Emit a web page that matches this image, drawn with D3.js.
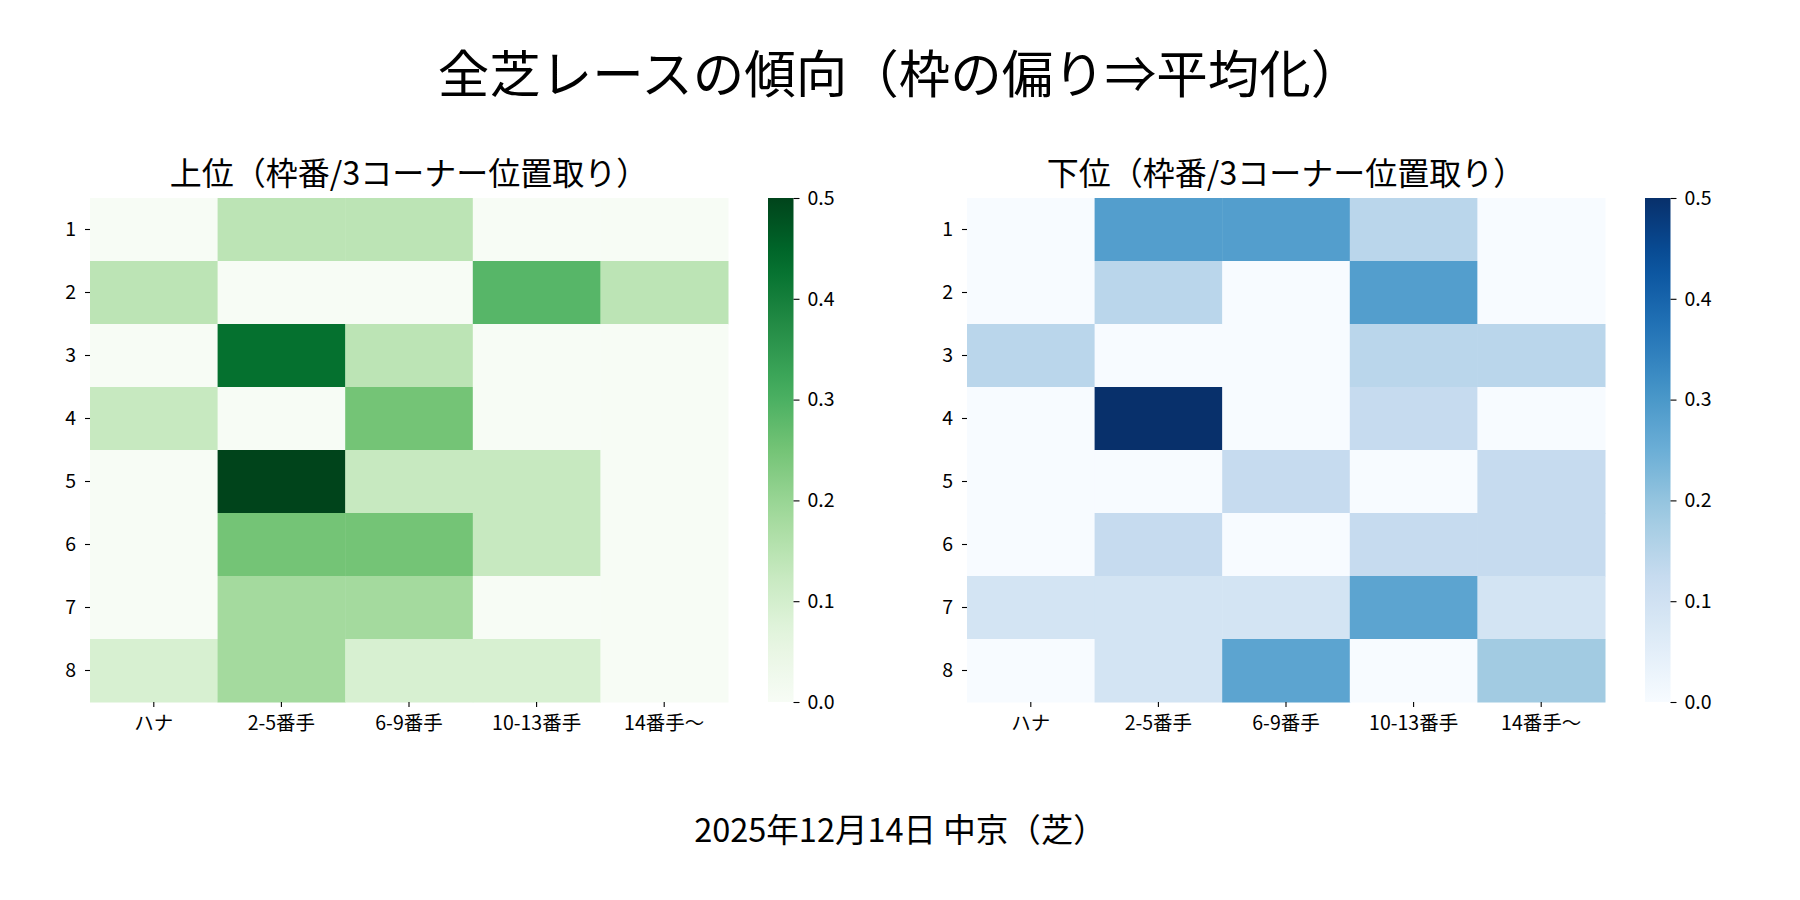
<!DOCTYPE html>
<html>
<head>
<meta charset="utf-8">
<script src="https://cdn.jsdelivr.net/npm/d3@7"></script>
<style>
  html, body { margin: 0; padding: 0; background: #fff; }
  svg text { font-family: "Noto Sans CJK JP", "Noto Sans", sans-serif; fill: #000; }
</style>
</head>
<body>
<div id="chart"></div>
<script>
// 行：枠番、列：3コーナー位置取り
const frames = ['1', '2', '3', '4', '5', '6', '7', '8'];
const positions = ['ハナ', '2-5番手', '6-9番手', '10-13番手', '14番手〜'];
const colorTicks = [0, 0.1, 0.2, 0.3, 0.4, 0.5];

// 上位（枠番/3コーナー位置取り）
const topRates = [
  [0, 0.143, 0.143, 0, 0],
  [0.143, 0, 0, 0.286, 0.143],
  [0, 0.429, 0.143, 0, 0],
  [0.125, 0, 0.25, 0, 0],
  [0, 0.5, 0.125, 0.125, 0],
  [0, 0.25, 0.25, 0.125, 0],
  [0, 0.182, 0.182, 0, 0],
  [0.091, 0.182, 0.091, 0.091, 0]
];

// 下位（枠番/3コーナー位置取り）
const bottomRates = [
  [0, 0.286, 0.286, 0.143, 0],
  [0, 0.143, 0, 0.286, 0],
  [0.143, 0, 0, 0.143, 0.143],
  [0, 0.5, 0, 0.125, 0],
  [0, 0, 0.125, 0, 0.125],
  [0, 0.125, 0, 0.125, 0.125],
  [0.091, 0.091, 0.091, 0.273, 0.091],
  [0, 0.091, 0.273, 0, 0.182]
];

const W = 1800, H = 900;
const svg = d3.select('#chart').append('svg')
  .attr('width', W).attr('height', H)
  .attr('viewBox', `0 0 ${W} ${H}`);
const defs = svg.append('defs');

// matplotlib と同じく 9 色を線形補間するカラーマップ
function makeCmap(scheme) {
  const stops = scheme.map((c, i) => 0.5 * i / (scheme.length - 1));
  return d3.scaleLinear().domain(stops).range(scheme)
    .interpolate(d3.interpolateRgb).clamp(true);
}

function drawHeatmap(x0, title, data, scheme, id) {
  const plot = { left: x0, top: 198, width: 638, height: 504 };
  const color = makeCmap(scheme);

  const g = svg.append('g')
    .attr('transform', `translate(${plot.left},${plot.top})`);

  const xScale = d3.scaleBand().domain(positions).range([0, plot.width]);
  const yScale = d3.scaleBand().domain(frames).range([0, plot.height]);

  // セル
  const cells = [];
  data.forEach((row, i) => row.forEach((v, j) => cells.push({ frame: frames[i], pos: positions[j], v })));
  g.selectAll('rect.cell')
    .data(cells).enter().append('rect')
    .attr('class', 'cell')
    .attr('x', d => xScale(d.pos))
    .attr('y', d => yScale(d.frame))
    .attr('width', xScale.bandwidth() + 0.5)
    .attr('height', yScale.bandwidth() + 0.5)
    .attr('fill', d => color(d.v));

  // 軸
  const yAxis = g.append('g')
    .call(d3.axisLeft(yScale).tickSize(5).tickPadding(9));
  const xAxis = g.append('g')
    .attr('transform', `translate(0,${plot.height})`)
    .call(d3.axisBottom(xScale).tickSize(5).tickPadding(9));
  [xAxis, yAxis].forEach(ax => {
    ax.select('.domain').remove();
    ax.selectAll('.tick line').attr('stroke', '#000').attr('stroke-width', 1.1);
    ax.selectAll('text').style('font-size', '19.5px').attr('fill', '#000');
  });

  // タイトル
  svg.append('text')
    .attr('x', plot.left + plot.width / 2)
    .attr('y', 185)
    .attr('text-anchor', 'middle')
    .style('font-size', '32px')
    .text(title);

  // カラーバー
  const cb = { left: plot.left + plot.width + 40, width: 25.5 };
  const grad = defs.append('linearGradient')
    .attr('id', `grad-${id}`)
    .attr('x1', '0%').attr('y1', '100%')
    .attr('x2', '0%').attr('y2', '0%');
  d3.range(0, 1.0001, 0.05).forEach(t => {
    grad.append('stop').attr('offset', `${t * 100}%`).attr('stop-color', color(t * 0.5));
  });
  const cScale = d3.scaleLinear().domain([0, 0.5]).range([plot.height, 0]);
  const cg = svg.append('g')
    .attr('transform', `translate(${cb.left},${plot.top})`);
  cg.append('rect')
    .attr('width', cb.width).attr('height', plot.height)
    .attr('fill', `url(#grad-${id})`);
  const cAxis = cg.append('g')
    .attr('transform', `translate(${cb.width},0)`)
    .call(d3.axisRight(cScale).tickValues(colorTicks).tickFormat(d3.format('.1f')).tickSize(6).tickPadding(8));
  cAxis.select('.domain').remove();
  cAxis.selectAll('.tick line').attr('stroke', '#000').attr('stroke-width', 1.1);
  cAxis.selectAll('text').style('font-size', '19.5px').attr('fill', '#000');
}

// 全体タイトル
svg.append('text')
  .attr('x', W / 2).attr('y', 93)
  .attr('text-anchor', 'middle')
  .style('font-size', '51.5px')
  .text('全芝レースの傾向（枠の偏り⇒平均化）');

drawHeatmap(90, '上位（枠番/3コーナー位置取り）', topRates, d3.schemeGreens[9], 'top');
drawHeatmap(967, '下位（枠番/3コーナー位置取り）', bottomRates, d3.schemeBlues[9], 'bottom');

// 日付・開催
svg.append('text')
  .attr('x', W / 2).attr('y', 842)
  .attr('text-anchor', 'middle')
  .style('font-size', '32.5px')
  .text('2025年12月14日 中京（芝）');
</script>
</body>
</html>
